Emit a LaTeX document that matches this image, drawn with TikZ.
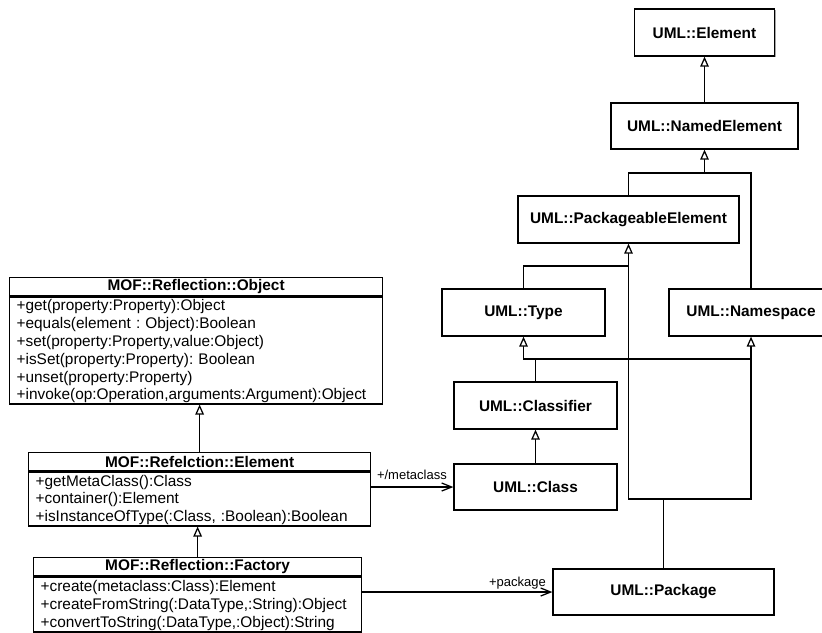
\documentclass[tikz,border=0pt]{standalone}
\usepackage{fontspec}
\setmainfont{Liberation Sans}
\usetikzlibrary{arrows.meta,shadows}
% row strut: every member line takes exactly 17.8pt
\newcommand{\rs}{\rule[-3.8pt]{0pt}{17.8pt}}
\frenchspacing
\begin{document}
\begin{tikzpicture}[x=1pt,y=-1pt,
  line width=1.25pt,
  font=\fontsize{15.4}{17.8}\selectfont,
  umlbox/.style={draw, fill=white, inner sep=0pt, minimum height=47pt,
    font=\fontsize{15.4}{17.8}\selectfont\bfseries,
    drop shadow={shadow xshift=1.3pt, shadow yshift=-1.3pt, opacity=0.35, fill=black}},
  moftitle/.style={draw, anchor=north west, inner sep=0pt, minimum height=18pt,
    font=\fontsize{15.4}{17.8}\selectfont\bfseries},
  mofbody/.style={draw, anchor=north west, inner xsep=7pt, inner ysep=0pt, align=left},
  gen/.style={-{Triangle[open,length=10pt,width=8.5pt,fill=white]}},
  nav/.style={-{Straight Barb[length=10pt,width=8pt]}},
  role/.style={font=\fontsize{13}{15}\selectfont, inner sep=0pt}
]
\path[use as bounding box, fill=white] (0,0) rectangle (822,632);

% ---- MOF reflection classes ----
\node[moftitle, minimum width=373pt] (objT) at (9,277) {MOF::Reflection::Object};
\node[mofbody, text width=359pt, minimum width=373pt, minimum height=107pt] (objB) at (objT.south west)
  {\rs+get(property:Property):Object\\
   \rs+equals(element : Object):Boolean\\
   \rs+set(property:Property,value:Object)\\
   \rs+isSet(property:Property): Boolean\\
   \rs+unset(property:Property)\\
   \rs+invoke(op:Operation,arguments:Argument):Object};

\node[moftitle, minimum width=342pt] (elemT) at (28,452) {MOF::Refelction::Element};
\node[mofbody, text width=328pt, minimum width=342pt, minimum height=54pt] (elemB) at (elemT.south west)
  {\rs+getMetaClass():Class\\
   \rs+container():Element\\
   \rs+isInstanceOfType(:Class, :Boolean):Boolean};

\node[moftitle, minimum width=328pt] (factT) at (33,557) {MOF::Reflection::Factory};
\node[mofbody, text width=314pt, minimum width=328pt, minimum height=55pt] (factB) at (factT.south west)
  {\rs+create(metaclass:Class):Element\\
   \rs+createFromString(:DataType,:String):Object\\
   \rs+convertToString(:DataType,:Object):String};

% ---- UML metaclasses ----
\node[umlbox, minimum width=140pt] (uelem) at (704.5,32.5) {UML::Element};
\node[umlbox, minimum width=187pt, minimum height=46pt] (named) at (704.5,126) {UML::NamedElement};
\node[umlbox, minimum width=221pt] (pe) at (628.5,219.5) {UML::PackageableElement};
\node[umlbox, minimum width=163pt] (type) at (523.5,312.5) {UML::Type};
\node[umlbox, minimum width=164pt] (ns) at (751,312.5) {UML::Namespace};
\node[umlbox, minimum width=163pt] (clf) at (535.5,405.5) {UML::Classifier};
\node[umlbox, minimum width=163pt, minimum height=46pt] (cls) at (535.5,487) {UML::Class};
\node[umlbox, minimum width=221pt, minimum height=46pt] (pkg) at (663.5,592) {UML::Package};

% junction points of the generalization trees
\coordinate (jA) at (704.5,173);
\coordinate (jB) at (628.5,266);
\coordinate (jE) at (535.5,359);
\coordinate (jN) at (751,359);
\coordinate (jP) at (663.5,499);

% ---- generalizations ----
\draw[gen] (named.north) -- (uelem.south);
\draw[gen] (pe.north) |- (jA) -- (named.south);
\draw (ns.north) |- (jA);
\draw (pkg.north) -- (jP);
\draw[gen] (jP) -| (pe.south);
\draw[gen] (jP) -| (ns.south);
\draw (type.north) |- (jB);
\draw[gen] (clf.north) -- (jE) -| (type.south);
\draw (jE) -- (jN);
\draw[gen] (cls.north) -- (clf.south);

\draw[gen] (elemT.north) -- (elemT.north |- objB.south);
\draw[gen] (factT.north) -- (factT.north |- elemB.south);

% ---- associations ----
\draw[nav] (elemB.east |- cls.west) -- (cls.west)
  node[role, anchor=base east, xshift=-6pt, yshift=8pt] (lblmeta) {+/metaclass};
\draw[nav] (factB.east |- pkg.west) -- (pkg.west)
  node[role, anchor=base east, xshift=-6pt, yshift=6pt] (lblpkg) {+package};
\end{tikzpicture}
\end{document}
